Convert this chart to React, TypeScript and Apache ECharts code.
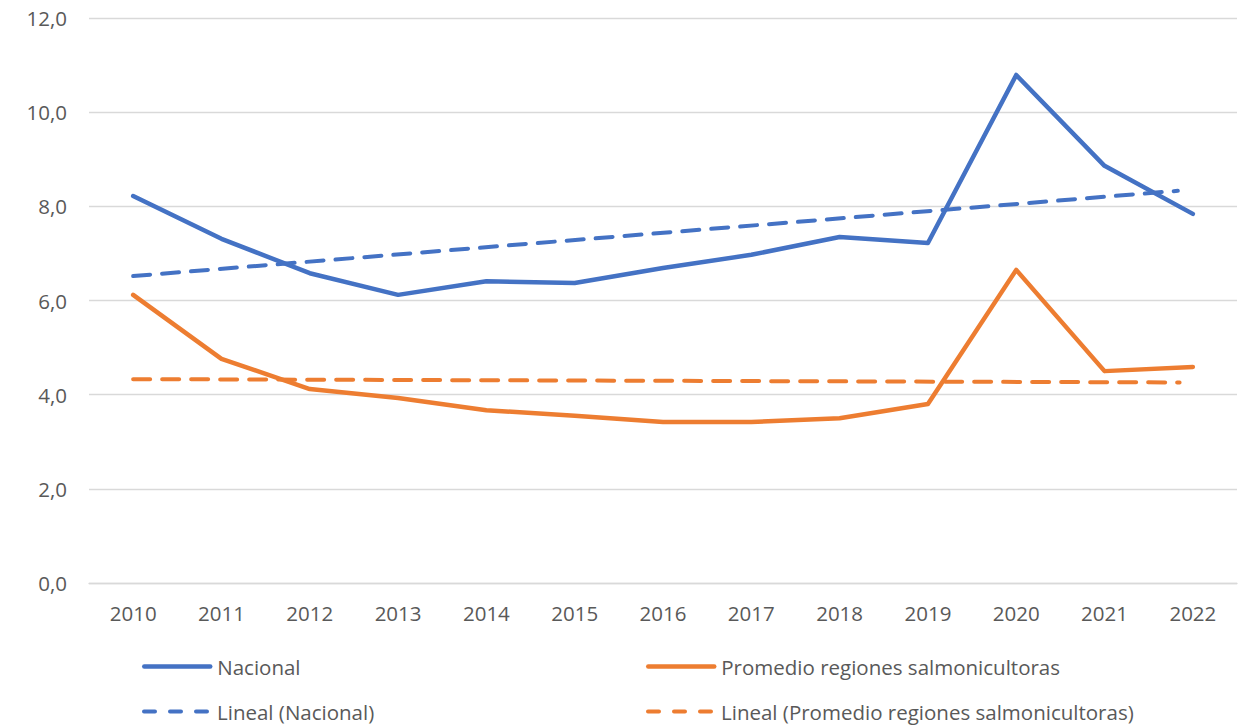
import React, { useEffect, useRef } from "react";
import * as echarts from "echarts";

const years = ["2010", "2011", "2012", "2013", "2014", "2015", "2016", "2017", "2018", "2019", "2020", "2021", "2022"];
const nacional = [8.22, 7.31, 6.58, 6.12, 6.41, 6.37, 6.69, 6.97, 7.35, 7.22, 10.79, 8.86, 7.84];
const promedio = [6.12, 4.76, 4.12, 3.93, 3.67, 3.55, 3.42, 3.42, 3.5, 3.8, 6.65, 4.5, 4.59];
// trend line endpoints [x position in year units, value]
const trendNacional = [[2010, 6.52], [2021.83, 8.33]];
const trendPromedio = [[2010, 4.33], [2021.85, 4.26]];
const yTicks = [0, 2, 4, 6, 8, 10, 12];

const BLUE = "#4472C4";
const ORANGE = "#ED7D31";
const FONT = "'Open Sans', 'Liberation Sans', sans-serif";
const TXT = "#595959";
const FS = 20.5;

export default function App() {
  const ref = useRef<HTMLDivElement>(null);
  useEffect(() => {
    const chart = echarts.init(ref.current!, null, { renderer: "svg" });
    const legendBase = {
      itemWidth: 66,
      itemHeight: 14,
      padding: 0,
      textStyle: { fontFamily: FONT, fontSize: FS, color: TXT, padding: [0, 0, 0, 2] },
      selectedMode: false,
      itemStyle: { opacity: 0 },
    };
    const solidLeg = { lineStyle: { width: 4.5, cap: "round", type: "solid" } };
    const dashLeg = { lineStyle: { width: 4, cap: "round", type: [11, 15] } };
    chart.setOption({
      animation: false,
      textStyle: { fontFamily: FONT },
      grid: { left: 89, right: 6, top: 18, bottom: 142 },
      xAxis: [
        {
          type: "category",
          data: years,
          boundaryGap: true,
          axisLine: { lineStyle: { color: "#D9D9D9", width: 1.3 } },
          axisTick: { show: false },
          axisLabel: { color: TXT, fontSize: FS, margin: 19, fontFamily: FONT },
        },
        {
          type: "value",
          min: 2009.5,
          max: 2022.5,
          show: false,
        },
      ],
      yAxis: {
        type: "value",
        min: 0,
        max: 12,
        interval: 2,
        axisLine: { show: false },
        axisTick: { show: false },
        splitLine: { lineStyle: { color: "#D9D9D9", width: 1.3 } },
        axisLabel: {
          color: TXT,
          fontSize: FS,
          margin: 22,
          fontFamily: FONT,
          formatter: (v: number) => (yTicks.includes(v) ? v.toFixed(1).replace(".", ",") : ""),
        },
      },
      legend: [
        { ...legendBase, ...solidLeg, data: ["Nacional"], left: 142, top: 656 },
        { ...legendBase, ...solidLeg, data: ["Promedio regiones salmonicultoras"], left: 646, top: 656 },
        { ...legendBase, ...dashLeg, data: ["Lineal (Nacional)"], left: 142, top: 701 },
        { ...legendBase, ...dashLeg, data: ["Lineal (Promedio regiones salmonicultoras)"], left: 646, top: 701 },
      ],
      series: [
        {
          name: "Nacional",
          type: "line",
          data: nacional,
          symbol: "none",
          lineStyle: { color: BLUE, width: 4.5, cap: "round", join: "round" },
          itemStyle: { color: BLUE },
          z: 3,
        },
        {
          name: "Promedio regiones salmonicultoras",
          type: "line",
          data: promedio,
          symbol: "none",
          lineStyle: { color: ORANGE, width: 4.5, cap: "round", join: "round" },
          itemStyle: { color: ORANGE },
          z: 3,
        },
        {
          name: "Lineal (Nacional)",
          type: "line",
          xAxisIndex: 1,
          data: trendNacional,
          symbol: "none",
          lineStyle: { color: BLUE, width: 4, type: [17, 12], cap: "round" },
          itemStyle: { color: BLUE },
          z: 2,
        },
        {
          name: "Lineal (Promedio regiones salmonicultoras)",
          type: "line",
          xAxisIndex: 1,
          data: trendPromedio,
          symbol: "none",
          lineStyle: { color: ORANGE, width: 4, type: [17, 12], cap: "round" },
          itemStyle: { color: ORANGE },
          z: 2,
        },
      ],
    });
    return () => chart.dispose();
  }, []);
  return <div ref={ref} style={{ width: 1243, height: 725, position: "absolute", left: 0, top: 0 }} />;
}
